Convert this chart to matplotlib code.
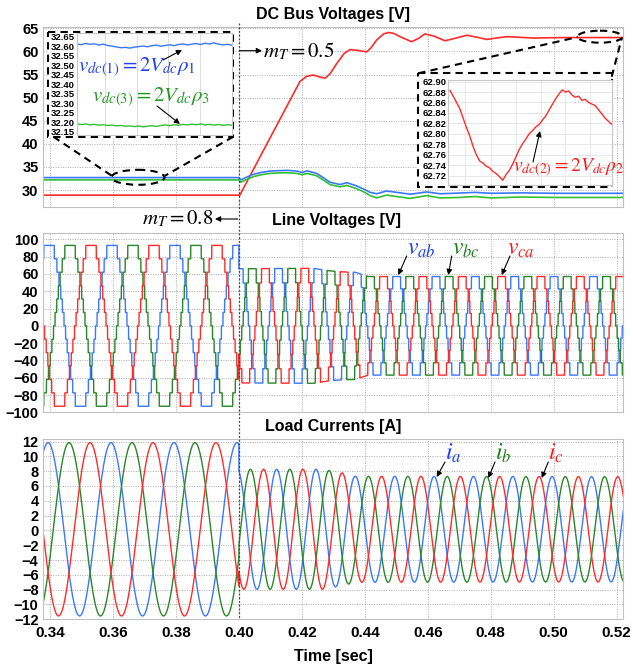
import numpy as np
import matplotlib
matplotlib.use('Agg')
import matplotlib.pyplot as plt
from matplotlib.patches import Rectangle, Ellipse

plt.rcParams['font.family'] = ['Liberation Sans', 'DejaVu Sans']
plt.rcParams['mathtext.fontset'] = 'stix'

BLUE = '#3a78ff'
GREEN = '#2a862a'
GREEN_DC = '#33c033'
RED = '#ff2b2b'

# ---- data ----
t_min, t_max = 0.3377, 0.5221
t_switch = 0.40
freq_before = 50      # Hz, m_T = 0.8
freq_after = 80       # Hz, m_T = 0.5

# DC bus voltages (knots)
dc_blue_t = [0.3377, 0.4000, 0.4006, 0.4025, 0.4046, 0.4070, 0.4099, 0.4125, 0.4152, 0.4185,
             0.4200, 0.4217, 0.4247, 0.4270, 0.4289, 0.4321, 0.4343, 0.4374, 0.4400, 0.4417,
             0.4438, 0.4469, 0.4512, 0.4544, 0.4597, 0.4639, 0.4700, 0.4750, 0.4800, 0.4900,
             0.5000, 0.5221]
dc_blue_v = [32.7, 32.7, 32.2, 32.8, 33.4, 33.8, 34.1, 34.2, 34.26, 34.1,
             33.8, 34.15, 33.6, 32.6, 31.7, 31.2, 31.6, 30.9, 30.1, 29.5,
             29.2, 29.8, 29.4, 29.1, 29.6, 29.2, 29.35, 29.5, 29.3, 29.4,
             29.3, 29.3]
dc_green_v = [32.2, 32.2, 31.7, 32.3, 32.9, 33.3, 33.6, 33.7, 33.75, 33.6,
              33.3, 33.6, 33.1, 32.1, 31.2, 30.7, 31.0, 30.3, 29.5, 28.8,
              28.3, 28.9, 28.5, 28.2, 28.8, 28.3, 28.4, 28.6, 28.3, 28.5,
              28.4, 28.4]
dc_red_t = [0.3377, 0.4003, 0.4194, 0.4215, 0.4236, 0.4255, 0.4274, 0.4290, 0.4311, 0.4335,
            0.4353, 0.4380, 0.4406, 0.4420, 0.4438, 0.4460, 0.4475, 0.4492, 0.4512, 0.4549,
            0.4570, 0.4591, 0.4620, 0.4655, 0.4690, 0.4724, 0.4755, 0.4787, 0.4851, 0.4935,
            0.5041, 0.5221]
dc_red_v = [28.9, 28.9, 53.5, 54.6, 54.9, 54.5, 54.2, 55.2, 57.4, 59.6,
            60.4, 60.2, 59.9, 60.8, 62.5, 63.8, 64.1, 63.9, 63.2, 62.1,
            62.8, 63.8, 63.3, 62.3, 62.9, 63.5, 63.1, 62.6, 63.2, 62.9,
            63.0, 63.0]

# zoomed insets
ins_blue = [32.612, 32.608, 32.615, 32.610, 32.613, 32.606, 32.611, 32.604, 32.600, 32.596,
            32.592, 32.594, 32.590, 32.595, 32.598, 32.601, 32.597, 32.603, 32.606, 32.600,
            32.604, 32.608, 32.603, 32.609, 32.612, 32.607, 32.611, 32.614, 32.609, 32.616,
            32.612, 32.618, 32.611, 32.607, 32.610, 32.606]
ins_green = [32.192, 32.188, 32.191, 32.186, 32.189, 32.185, 32.187, 32.183, 32.185, 32.181,
             32.183, 32.179, 32.181, 32.177, 32.180, 32.176, 32.179, 32.182, 32.178, 32.183,
             32.186, 32.182, 32.187, 32.184, 32.189, 32.186, 32.190, 32.187, 32.191, 32.186,
             32.189, 32.185, 32.188, 32.184, 32.187, 32.185]
ins_red = [62.883, 62.872, 62.860, 62.848, 62.830, 62.812, 62.796, 62.776, 62.760, 62.748,
           62.744, 62.738, 62.735, 62.728, 62.724, 62.718, 62.711, 62.722, 62.730, 62.742,
           62.756, 62.770, 62.781, 62.790, 62.800, 62.806, 62.813, 62.818, 62.826, 62.834,
           62.845, 62.856, 62.867, 62.876, 62.884, 62.880, 62.882, 62.874, 62.870, 62.872,
           62.864, 62.866, 62.860, 62.857, 62.854, 62.846, 62.838, 62.830, 62.824, 62.818]

# line voltages: staircase switching angles (deg from zero crossing) and peak level
angles_before = [4.5, 13.7, 23.2, 33.4, 45.1, 60.0]
angles_after = [6.6, 20.3, 35.3, 53.9]
vab_peak_before = 0.3397
vab_peak_after = 0.4126
vline_top_before = 93.0
vline_top_t = [0.4000, 0.4236, 0.4289, 0.4332, 0.4369, 0.4411, 0.5221]
vline_top_v = [66.0, 66.5, 63.5, 62.3, 62.0, 57.0, 57.0]

# load currents: peak time of i_a and amplitude
ia_peak_before = 0.3394
ia_peak_after = 0.4120
i_amp_before = 11.7
i_amp_t = [0.4000, 0.4265, 0.4330, 0.4370, 0.5221]
i_amp_v = [8.1, 8.1, 7.6, 7.15, 7.1]
i_offset = 0.15

# ---- waveforms ----
t = np.linspace(t_min, t_max, 24000)
after = t >= t_switch


def staircase(phase, angles):
    psi = np.mod(phase + 90, 360)
    a = np.where(psi < 180, np.minimum(psi, 180 - psi), np.minimum(psi - 180, 360 - psi))
    sgn = np.where(psi < 180, 1, -1)
    k = (a[:, None] > np.array(angles)[None, :]).sum(axis=1)
    return sgn * k


ph_v = np.where(after, 360 * freq_after * (t - vab_peak_after), 360 * freq_before * (t - vab_peak_before))
step = np.where(after, np.interp(t, vline_top_t, vline_top_v) / len(angles_after),
                vline_top_before / len(angles_before))
line_v = {}
for name, shift in [('ab', 0), ('bc', 120), ('ca', 240)]:
    lv_b = staircase(ph_v - shift, angles_before)
    lv_a = staircase(ph_v - shift, angles_after)
    line_v[name] = np.where(after, lv_a, lv_b) * step

ph_i = np.where(after, 360 * freq_after * (t - ia_peak_after), 360 * freq_before * (t - ia_peak_before))
amp = np.where(after, np.interp(t, i_amp_t, i_amp_v), i_amp_before)
cur = {}
for name, shift in [('a', 0), ('b', 120), ('c', 240)]:
    cur[name] = amp * np.cos(np.radians(ph_i - shift)) + i_offset

# ---- layout (pixel boxes of the 633x667 picture) ----
W, H = 633, 667


def box(x0, y0, x1, y1):
    return [x0 / W, 1 - y1 / H, (x1 - x0) / W, (y1 - y0) / H]


fig = plt.figure(figsize=(6.33, 6.67), dpi=100)
ax1 = fig.add_axes(box(42.7, 26.7, 623.3, 206.7))
ax2 = fig.add_axes(box(42.7, 233.3, 623.3, 412.3))
ax3 = fig.add_axes(box(42.7, 439.3, 623.3, 619.3))

ax1.plot(dc_red_t, dc_red_v, color=RED, lw=1.2)
ax1.plot(dc_blue_t, dc_blue_v, color=BLUE, lw=1.2)
ax1.plot(dc_blue_t, dc_green_v, color=GREEN_DC, lw=1.2)

ax2.plot(t, line_v['ab'], color=BLUE, lw=1.0)
ax2.plot(t, line_v['bc'], color=GREEN, lw=1.0)
ax2.plot(t, line_v['ca'], color=RED, lw=1.0)

ax3.plot(t, cur['a'], color=BLUE, lw=1.0)
ax3.plot(t, cur['b'], color=GREEN, lw=1.0)
ax3.plot(t, cur['c'], color=RED, lw=1.0)

ax1.set_ylim(26.4, 65.35)
ax1.set_yticks(np.arange(30, 66, 5))
ax2.set_ylim(-100, 107)
ax2.set_yticks(np.arange(-100, 101, 20))
ax3.set_ylim(-12, 12.3)
ax3.set_yticks(np.arange(-12, 13, 2))

xt = np.arange(0.34, 0.521, 0.02)
for ax in (ax1, ax2, ax3):
    ax.set_xlim(t_min, t_max)
    ax.set_xticks(xt)
    ax.grid(True, color='#aaaaaa', ls=(0, (1, 1.5)), lw=0.7)
    ax.tick_params(length=0, pad=3, labelsize=10.5)
    for sp in ax.spines.values():
        sp.set_color('#c0c0c0')
        sp.set_linewidth(0.8)
ax1.tick_params(labelbottom=False)
ax2.tick_params(labelbottom=False)
ax3.set_xticklabels([f'{v:.2f}' for v in xt])
ax3.tick_params(axis='x', labelsize=11, pad=5)
for ax in (ax1, ax2, ax3):
    for lbl in ax.get_xticklabels() + ax.get_yticklabels():
        lbl.set_fontweight('bold')

title_kw = dict(ha='center', va='center', fontsize=11.5, fontweight='bold')
fig.text(333 / W, 1 - 15 / H, 'DC Bus Voltages [V]', **title_kw)
fig.text(336 / W, 1 - 220 / H, 'Line Voltages [V]', **title_kw)
fig.text(333 / W, 1 - 427 / H, 'Load Currents [A]', **title_kw)
fig.text(333 / W, 1 - 656 / H, 'Time [sec]', **title_kw)

# white dashed frames behind the insets
low = fig.add_axes([0, 0, 1, 1], zorder=3)
low.set_xlim(0, W)
low.set_ylim(H, 0)
low.axis('off')
low.patch.set_visible(False)
for x0, y0, x1, y1 in [(48.3, 31.7, 233.3, 136.7), (418.3, 73.3, 611.7, 186.7)]:
    low.add_patch(Rectangle((x0, y0), x1 - x0, y1 - y0, facecolor='white', edgecolor='black',
                            lw=1.5, ls=(0, (3.5, 2.5))))

# insets
ins1 = fig.add_axes(box(76.7, 33.3, 231.7, 135), zorder=5)
ins1.plot(np.linspace(0, 1, len(ins_blue)), ins_blue, color=BLUE, lw=1.0)
ins1.plot(np.linspace(0, 1, len(ins_green)), ins_green, color=GREEN_DC, lw=1.0)
ins1.set_xlim(0, 1)
ins1.set_ylim(32.133, 32.668)
yt1 = np.arange(32.15, 32.66, 0.05)
ins1.set_yticks(yt1)
ins1.set_yticklabels([f'{v:.2f}' for v in yt1])
ins1.set_xticks([0.183, 0.387, 0.591, 0.796])
ins1.set_xticklabels([])
ins1.grid(axis='x', color='#d8d8d8', lw=0.6)

ins2 = fig.add_axes(box(448.3, 80, 611.7, 185), zorder=5)
ins2.plot(np.linspace(0, 1, len(ins_red)), ins_red, color=RED, lw=1.0)
ins2.set_xlim(-0.01, 1)
ins2.set_ylim(62.702, 62.903)
yt2 = np.arange(62.72, 62.905, 0.02)
ins2.set_yticks(yt2)
ins2.set_yticklabels([f'{v:.2f}' for v in yt2])
ins2.set_xticks([0.092, 0.251, 0.408, 0.561, 0.714, 0.867])
ins2.set_xticklabels([])
ins2.grid(color='#e4e4e4', lw=0.6)

for ins in (ins1, ins2):
    ins.tick_params(length=0, pad=1.5, labelsize=6.8)
    for lbl in ins.get_yticklabels():
        lbl.set_fontweight('bold')
    for sp in ins.spines.values():
        sp.set_color('#c8c8c8')
        sp.set_linewidth(0.8)

# overlay for annotations
top = fig.add_axes([0, 0, 1, 1], zorder=10)
top.set_xlim(0, W)
top.set_ylim(H, 0)
top.axis('off')
top.patch.set_visible(False)

fig.canvas.draw()
x_sw = ax3.transData.transform((t_switch, 0))[0]
top.plot([x_sw, x_sw], [23, 619.3], color='#444444', lw=0.9, ls=(0, (1.5, 1.5)))

dash = dict(color='black', lw=1.5, ls=(0, (3.5, 2.5)))
top.add_patch(Ellipse((138, 177.3), 53, 15, fill=False, ec='black', lw=1.5, ls=(0, (3.5, 2.5))))
top.add_patch(Ellipse((600, 36.7), 45, 12, fill=False, ec='black', lw=1.5, ls=(0, (3.5, 2.5))))
top.plot([53.3, 111.7], [136.7, 175.7], **dash)
top.plot([233.3, 165], [136.7, 175.7], **dash)
top.plot([418.3, 578], [73.3, 37], **dash)
top.plot([611.7, 621.7], [76.7, 38.5], **dash)

arr = dict(arrowstyle='-|>', color='black', lw=0.8, mutation_scale=8, shrinkA=0, shrinkB=0)


def label(x, y, s, color, size=15, ha='left'):
    top.text(x, y, s, color=color, fontsize=size, ha=ha, va='center', fontweight='normal')


def arrow(x0, y0, x1, y1):
    top.annotate('', xy=(x1, y1), xytext=(x0, y0), arrowprops=arr)


label(78, 67, r'$v_{dc(1)}=2V_{dc}\rho_1$', '#2040ff')
arrow(163, 60, 182, 50)
label(92, 97, r'$v_{dc(3)}=2V_{dc}\rho_3$', '#1f9a1f')
arrow(157, 106, 180, 124)
label(513, 168, r'$v_{dc(2)}=2V_{dc}\rho_2$', '#ff1a1a', size=14)
arrow(533, 162, 540, 131)

label(263, 50.7, r'$m_T=0.5$', 'black')
arrow(x_sw + 1, 50.7, 262, 50.7)
label(213, 219, r'$m_T=0.8$', 'black', ha='right')
arrow(x_sw - 1, 219, 215, 219)

label(407, 249, r'$v_{ab}$', '#1a3cff', size=17)
arrow(406.7, 256, 398.3, 275)
label(452, 249, r'$v_{bc}$', '#1a801a', size=17)
arrow(451.7, 256, 448.3, 275)
label(507, 249, r'$v_{ca}$', '#ff1a1a', size=17)
arrow(510, 256, 501.7, 275)

label(445, 453, r'$i_a$', '#1a3cff', size=17)
arrow(445, 462, 436.7, 477)
label(495, 453, r'$i_b$', '#1a801a', size=17)
arrow(495, 462, 488.3, 478)
label(548, 453, r'$i_c$', '#ff1a1a', size=17)
arrow(548.3, 462, 541.7, 478)

fig.savefig('out.png', dpi=100)
